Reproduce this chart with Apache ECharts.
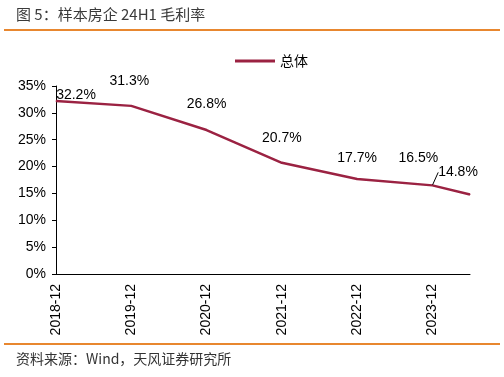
<!DOCTYPE html>
<html>
<head>
    <meta charset="utf-8">
    <title>样本房企 24H1 毛利率</title>
    <script src="https://cdn.jsdelivr.net/npm/echarts@6/dist/echarts.min.js"></script>
    <style type="text/css">
        html, body { margin: 0; padding: 0; background: #fff; }
        #main { width: 504px; height: 377px; }
    </style>
</head>
<body>
    <div id="main"></div>
    <script type="text/javascript">
        // 报告期与毛利率（%）
        var periods = ['2018-12', '2019-12', '2020-12', '2021-12', '2022-12', '2023-12', '2024-06'];
        var margin = [32.2, 31.3, 26.8, 20.7, 17.7, 16.5, 14.8];
        var seriesName = '总体';
        var yTicks = [0, 5, 10, 15, 20, 25, 30, 35];

        // 按月份换算横坐标，24H1 落在两年中间
        function toX(p) {
            var s = p.split('-');
            return (+s[0] - 2018) + (+s[1] - 12) / 12;
        }
        var xCats = periods.filter(function (p) { return p.slice(5) === '12'; });

        // 数据标签的偏移（样式）
        var labelOffsets = [[20, -6], [-2, -25], [0, -26], [0, -25], [0, -21], [-14, -27], [-12, -22]];

        var lineColor = '#9b2242';
        var data = periods.map(function (p, i) {
            var item = { value: [toX(p), margin[i]], label: { offset: labelOffsets[i] } };
            if (i === 5) {
                item.labelLine = { show: true, lineStyle: { color: '#000', width: 1 } };
            }
            return item;
        });

        var chart = echarts.init(document.getElementById('main'));
        var option = {
            animation: false,
            graphic: [
                { type: 'text', left: 16, top: 7, style: { text: '图 5：样本房企 24H1 毛利率', fontSize: 15, fill: '#3a3a3a', fontFamily: 'Noto Sans CJK SC' } },
                { type: 'line', shape: { x1: 4, y1: 30, x2: 500, y2: 30 }, style: { stroke: '#e8872f', lineWidth: 2 } },
                { type: 'line', shape: { x1: 4, y1: 344, x2: 500, y2: 344 }, style: { stroke: '#e8872f', lineWidth: 2 } },
                { type: 'text', left: 16, top: 352, style: { text: '资料来源：Wind，天风证券研究所', fontSize: 14, fill: '#333', fontFamily: 'Noto Sans CJK SC' } }
            ],
            legend: {
                left: 230,
                top: 49,
                icon: 'rect',
                itemWidth: 40,
                itemHeight: 3,
                itemGap: 10,
                textStyle: { fontSize: 14, color: '#000', fontFamily: 'Noto Sans CJK SC' },
                data: [seriesName]
            },
            grid: { left: 56, right: 34, top: 86, bottom: 103 },
            xAxis: {
                type: 'value',
                min: 0,
                max: toX(periods[periods.length - 1]),
                interval: 1,
                splitLine: { show: false },
                axisLine: { show: true, lineStyle: { color: '#000', width: 1 } },
                axisTick: { show: false },
                axisLabel: {
                    rotate: 90,
                    fontSize: 14,
                    color: '#000',
                    fontFamily: 'Liberation Sans',
                    margin: 10,
                    showMaxLabel: false,
                    formatter: function (v) { return xCats[Math.round(v)] || ''; }
                }
            },
            yAxis: {
                type: 'value',
                min: yTicks[0],
                max: yTicks[yTicks.length - 1],
                interval: yTicks[1] - yTicks[0],
                splitLine: { show: false },
                axisLine: { show: true, lineStyle: { color: '#000', width: 1 } },
                axisTick: { show: true, length: 4, lineStyle: { color: '#000' } },
                axisLabel: {
                    fontSize: 14,
                    color: '#000',
                    fontFamily: 'Liberation Sans',
                    margin: 10,
                    formatter: '{value}%'
                }
            },
            series: [{
                name: seriesName,
                type: 'line',
                data: data,
                symbol: 'circle',
                symbolSize: 1,
                itemStyle: { color: lineColor },
                lineStyle: { color: lineColor, width: 2.5 },
                label: {
                    show: true,
                    position: 'inside',
                    fontSize: 14,
                    color: '#000',
                    fontFamily: 'Liberation Sans',
                    formatter: function (p) { return p.value[1].toFixed(1) + '%'; }
                }
            }]
        };
        chart.setOption(option);
    </script>
</body>
</html>
